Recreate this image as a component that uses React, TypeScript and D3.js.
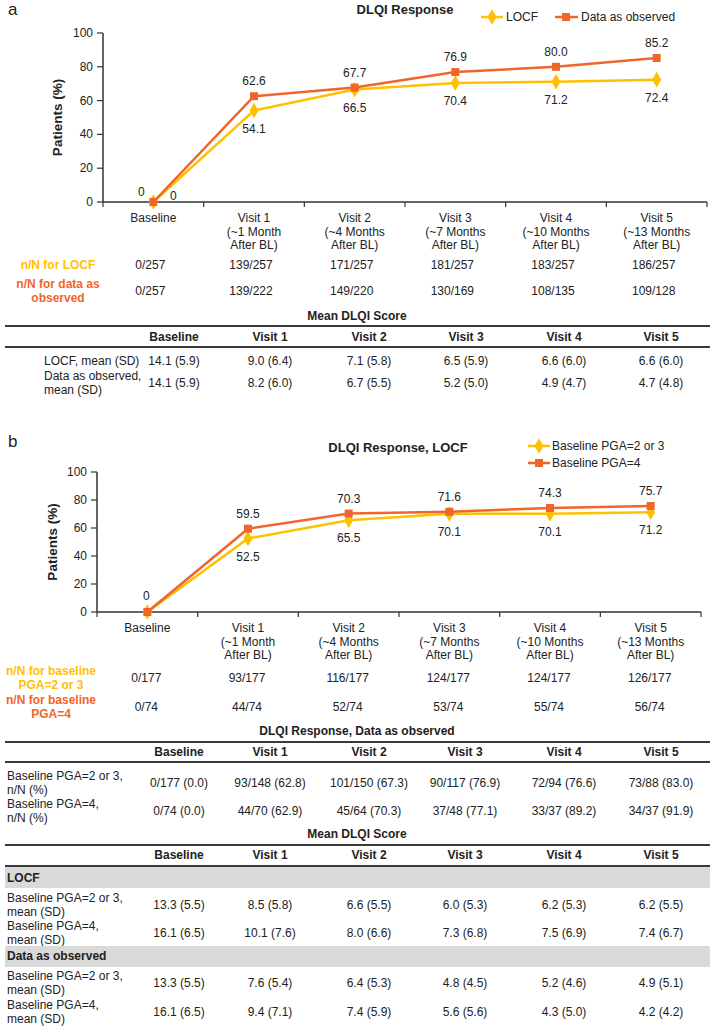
import React from "react";
import * as d3 from "d3";

const W = 710;
const H = 1028;
const FONT = "'Liberation Sans', Arial, Helvetica, sans-serif";
const ORANGE = "#F0652A";
const YELLOW = "#FFC000";
const LINE_DARK = "#3a3a3a";

// ---------- data ----------
const categories = ["Baseline", "Visit 1", "Visit 2", "Visit 3", "Visit 4", "Visit 5"];
const categoryLines = [
  ["Baseline"],
  ["Visit 1", "(~1 Month", "After BL)"],
  ["Visit 2", "(~4 Months", "After BL)"],
  ["Visit 3", "(~7 Months", "After BL)"],
  ["Visit 4", "(~10 Months", "After BL)"],
  ["Visit 5", "(~13 Months", "After BL)"],
];
const yTicks = [0, 20, 40, 60, 80, 100];

const locfA = [0, 54.1, 66.5, 70.4, 71.2, 72.4];
const observedA = [0, 62.6, 67.7, 76.9, 80.0, 85.2];
const pga23B = [0, 52.5, 65.5, 70.1, 70.1, 71.2];
const pga4B = [0, 59.5, 70.3, 71.6, 74.3, 75.7];

const nnLocfA = ["0/257", "139/257", "171/257", "181/257", "183/257", "186/257"];
const nnObsA = ["0/257", "139/222", "149/220", "130/169", "108/135", "109/128"];
const meanLocfA = ["14.1 (5.9)", "9.0 (6.4)", "7.1 (5.8)", "6.5 (5.9)", "6.6 (6.0)", "6.6 (6.0)"];
const meanObsA = ["14.1 (5.9)", "8.2 (6.0)", "6.7 (5.5)", "5.2 (5.0)", "4.9 (4.7)", "4.7 (4.8)"];

const nnPga23 = ["0/177", "93/177", "116/177", "124/177", "124/177", "126/177"];
const nnPga4 = ["0/74", "44/74", "52/74", "53/74", "55/74", "56/74"];
const obsPga23 = ["0/177 (0.0)", "93/148 (62.8)", "101/150 (67.3)", "90/117 (76.9)", "72/94 (76.6)", "73/88 (83.0)"];
const obsPga4 = ["0/74 (0.0)", "44/70 (62.9)", "45/64 (70.3)", "37/48 (77.1)", "33/37 (89.2)", "34/37 (91.9)"];
const meanLocfPga23 = ["13.3 (5.5)", "8.5 (5.8)", "6.6 (5.5)", "6.0 (5.3)", "6.2 (5.3)", "6.2 (5.5)"];
const meanLocfPga4 = ["16.1 (6.5)", "10.1 (7.6)", "8.0 (6.6)", "7.3 (6.8)", "7.5 (6.9)", "7.4 (6.7)"];
const meanObsPga23 = ["13.3 (5.5)", "7.6 (5.4)", "6.4 (5.3)", "4.8 (4.5)", "5.2 (4.6)", "4.9 (5.1)"];
const meanObsPga4 = ["16.1 (6.5)", "9.4 (7.1)", "7.4 (5.9)", "5.6 (5.6)", "4.3 (5.0)", "4.2 (4.2)"];

const fmt = (v: number) => (v === 0 ? "0" : v.toFixed(1));

const diamond = d3.symbol().type(d3.symbolDiamond).size(70)() as string;
const square = d3.symbol().type(d3.symbolSquare).size(64)() as string;

type ChartProps = {
  left: number;
  right: number;
  yTop: number;
  yBottom: number;
  yellow: number[];
  orange: number[];
  titleX: number;
  zeroBoth: boolean;
  yTitleX: number;
};

function LineChart(p: ChartProps) {
  const x = d3.scaleBand<string>().domain(categories).range([p.left, p.right]).padding(0);
  const y = d3.scaleLinear().domain([0, 100]).range([p.yBottom, p.yTop]);
  const cx = (c: string) => (x(c) as number) + x.bandwidth() / 2;
  const line = d3
    .line<number>()
    .x((_, i) => cx(categories[i]))
    .y((d) => y(d));
  const bounds = categories.map((c) => x(c) as number).concat([p.right]);
  return (
    <g fontFamily={FONT}>
      {/* y axis */}
      <line x1={p.left} x2={p.left} y1={p.yTop} y2={p.yBottom} stroke="#333" strokeWidth={1.5} />
      {yTicks.map((t) => (
        <g key={t}>
          <line x1={p.left - 6} x2={p.left} y1={y(t)} y2={y(t)} stroke="#333" strokeWidth={1.2} />
          <text x={p.left - 10} y={y(t)} textAnchor="end" dominantBaseline="central" fontSize={12} fill="#222">
            {t}
          </text>
        </g>
      ))}
      <text
        transform={`translate(${p.yTitleX},${(p.yTop + p.yBottom) / 2}) rotate(-90)`}
        textAnchor="middle"
        dominantBaseline="central"
        fontSize={13.5}
        fontWeight="bold"
        fill="#222"
      >
        Patients (%)
      </text>
      {/* x axis */}
      <line x1={p.left} x2={p.right} y1={p.yBottom} y2={p.yBottom} stroke="#333" strokeWidth={1.5} />
      {bounds.map((b, i) => (
        <line key={i} x1={b} x2={b} y1={p.yBottom} y2={p.yBottom + 5} stroke="#333" strokeWidth={1.2} />
      ))}
      {categories.map((c, i) => (
        <text key={c} textAnchor="middle" fontSize={12} fill="#222">
          {categoryLines[i].map((l, j) => (
            <tspan key={j} x={cx(c)} y={p.yBottom + 16 + j * 13.5} dominantBaseline="central">
              {l}
            </tspan>
          ))}
        </text>
      ))}
      {/* lines */}
      <path d={line(p.yellow) as string} fill="none" stroke={YELLOW} strokeWidth={2.5} />
      <path d={line(p.orange) as string} fill="none" stroke={ORANGE} strokeWidth={2.5} />
      {p.yellow.map((v, i) => (
        <path key={"y" + i} d={diamond} transform={`translate(${cx(categories[i])},${y(v)})`} fill={YELLOW} />
      ))}
      {p.orange.map((v, i) => (
        <path key={"o" + i} d={square} transform={`translate(${cx(categories[i])},${y(v)})`} fill={ORANGE} />
      ))}
      {/* data labels */}
      {p.orange.map((v, i) => {
        let dx = 0;
        let dy = -15;
        if (i === 0 && p.zeroBoth) {
          dx = -12;
          dy = -10;
        } else if (i === 0) {
          dx = -1;
          dy = -16;
        }
        return (
          <text
            key={"lo" + i}
            x={cx(categories[i]) + dx}
            y={y(v) + dy}
            textAnchor="middle"
            dominantBaseline="central"
            fontSize={12}
            fill="#222"
          >
            {fmt(v)}
          </text>
        );
      })}
      {p.yellow.map((v, i) => {
        if (i === 0 && !p.zeroBoth) return null;
        let dx = 0;
        let dy = 18;
        if (i === 0) {
          dx = 20;
          dy = -6;
        }
        return (
          <text
            key={"ly" + i}
            x={cx(categories[i]) + dx}
            y={y(v) + dy}
            textAnchor="middle"
            dominantBaseline="central"
            fontSize={12}
            fill="#222"
          >
            {fmt(v)}
          </text>
        );
      })}
    </g>
  );
}

function HLine({ y }: { y: number }) {
  return <line x1={5} x2={710} y1={y} y2={y} stroke={LINE_DARK} strokeWidth={2} />;
}

function Row({ y, cols, values, bold }: { y: number; cols: number[]; values: string[]; bold?: boolean }) {
  return (
    <g>
      {values.map((v, i) => (
        <text
          key={i}
          x={cols[i]}
          y={y}
          textAnchor="middle"
          dominantBaseline="central"
          fontSize={12}
          fontWeight={bold ? "bold" : "normal"}
          fill="#222"
        >
          {v}
        </text>
      ))}
    </g>
  );
}

function Label({ x, y, lines, color, bold, anchor }: { x: number; y: number; lines: string[]; color?: string; bold?: boolean; anchor?: string }) {
  return (
    <text textAnchor={anchor || "start"} fontSize={12} fontWeight={bold ? "bold" : "normal"} fill={color || "#222"}>
      {lines.map((l, j) => (
        <tspan key={j} x={x} y={y + j * 14} dominantBaseline="central">
          {l}
        </tspan>
      ))}
    </text>
  );
}

export default function App() {
  const colsA = [174, 270, 369, 466, 564, 661];
  const colsB = [179, 270, 369, 465, 564, 661];
  const xa = d3.scaleBand<string>().domain(categories).range([103, 707]);
  const xb = d3.scaleBand<string>().domain(categories).range([97, 701]);
  const nnColsA = categories.map((c) => (xa(c) as number) + xa.bandwidth() / 2 - 3);
  const nnColsB = categories.map((c) => (xb(c) as number) + xb.bandwidth() / 2 - 1);

  return (
    <svg
      width={W}
      height={H}
      viewBox={`0 0 ${W} ${H}`}
      style={{ position: "absolute", left: 0, top: 0, background: "#fff" }}
      fontFamily={FONT}
    >
      <rect x={0} y={0} width={W} height={H} fill="#fff" />
      {/* ----- Panel a ----- */}
      <text x={8} y={9} fontSize={17} dominantBaseline="central" fill="#222">a</text>
      <text x={405} y={9} textAnchor="middle" dominantBaseline="central" fontSize={13} fontWeight="bold" fill="#222">
        DLQI Response
      </text>
      <g>
        <line x1={481} x2={503} y1={17} y2={17} stroke={YELLOW} strokeWidth={2.5} />
        <path d={diamond} transform="translate(492,17)" fill={YELLOW} />
        <text x={506} y={17} dominantBaseline="central" fontSize={12} fill="#222">LOCF</text>
        <line x1={555} x2={578} y1={17} y2={17} stroke={ORANGE} strokeWidth={2.5} />
        <path d={square} transform="translate(566,17)" fill={ORANGE} />
        <text x={581} y={17} dominantBaseline="central" fontSize={12} fill="#222">Data as observed</text>
      </g>
      <LineChart left={103} right={707} yTop={33} yBottom={202} yellow={locfA} orange={observedA} titleX={405} zeroBoth={true} yTitleX={57} />

      <Label x={58} y={265} lines={["n/N for LOCF"]} color={YELLOW} bold anchor="middle" />
      <Label x={58} y={284} lines={["n/N for data as", "observed"]} color={ORANGE} bold anchor="middle" />
      <Row y={265} cols={nnColsA} values={nnLocfA} />
      <Row y={291} cols={nnColsA} values={nnObsA} />

      <text x={357} y={316} textAnchor="middle" dominantBaseline="central" fontSize={12} fontWeight="bold" fill="#222">
        Mean DLQI Score
      </text>
      <HLine y={326} />
      <Row y={337} cols={colsA} values={categories} bold />
      <HLine y={347} />
      <Label x={44} y={361} lines={["LOCF, mean (SD)"]} />
      <Row y={361} cols={colsA} values={meanLocfA} />
      <Label x={44} y={376} lines={["Data as observed,", "mean (SD)"]} />
      <Row y={383} cols={colsA} values={meanObsA} />

      {/* ----- Panel b ----- */}
      <text x={8} y={441} fontSize={17} dominantBaseline="central" fill="#222">b</text>
      <text x={398} y={447} textAnchor="middle" dominantBaseline="central" fontSize={13} fontWeight="bold" fill="#222">
        DLQI Response, LOCF
      </text>
      <g>
        <line x1={528} x2={550} y1={446} y2={446} stroke={YELLOW} strokeWidth={2.5} />
        <path d={diamond} transform="translate(539,446)" fill={YELLOW} />
        <text x={552} y={446} dominantBaseline="central" fontSize={12} fill="#222">Baseline PGA=2 or 3</text>
        <line x1={528} x2={550} y1={463} y2={463} stroke={ORANGE} strokeWidth={2.5} />
        <path d={square} transform="translate(539,463)" fill={ORANGE} />
        <text x={552} y={463} dominantBaseline="central" fontSize={12} fill="#222">Baseline PGA=4</text>
      </g>
      <LineChart left={97} right={701} yTop={472} yBottom={612} yellow={pga23B} orange={pga4B} titleX={398} zeroBoth={false} yTitleX={52} />

      <Label x={51} y={671} lines={["n/N for baseline", "PGA=2 or 3"]} color={YELLOW} bold anchor="middle" />
      <Label x={51} y={700} lines={["n/N for baseline", "PGA=4"]} color={ORANGE} bold anchor="middle" />
      <Row y={678} cols={nnColsB} values={nnPga23} />
      <Row y={707} cols={nnColsB} values={nnPga4} />

      <text x={357} y={731} textAnchor="middle" dominantBaseline="central" fontSize={12} fontWeight="bold" fill="#222">
        DLQI Response, Data as observed
      </text>
      <HLine y={742} />
      <Row y={752} cols={colsB} values={categories} bold />
      <HLine y={762} />
      <Label x={7} y={776} lines={["Baseline PGA=2 or 3,", "n/N (%)"]} />
      <Row y={783} cols={colsB} values={obsPga23} />
      <Label x={7} y={804} lines={["Baseline PGA=4,", "n/N (%)"]} />
      <Row y={811} cols={colsB} values={obsPga4} />

      <text x={357} y={834} textAnchor="middle" dominantBaseline="central" fontSize={12} fontWeight="bold" fill="#222">
        Mean DLQI Score
      </text>
      <HLine y={845} />
      <Row y={855} cols={colsB} values={categories} bold />
      <HLine y={866} />
      <rect x={5} y={867} width={705} height={21} fill="#d9d9d9" />
      <text x={7} y={878} dominantBaseline="central" fontSize={12} fontWeight="bold" fill="#222">LOCF</text>
      <Label x={7} y={898} lines={["Baseline PGA=2 or 3,", "mean (SD)"]} />
      <Row y={905} cols={colsB} values={meanLocfPga23} />
      <Label x={7} y={926} lines={["Baseline PGA=4,", "mean (SD)"]} />
      <Row y={933} cols={colsB} values={meanLocfPga4} />
      <rect x={5} y={946} width={705} height={21} fill="#d9d9d9" />
      <text x={7} y={956} dominantBaseline="central" fontSize={12} fontWeight="bold" fill="#222">Data as observed</text>
      <Label x={7} y={976} lines={["Baseline PGA=2 or 3,", "mean (SD)"]} />
      <Row y={983} cols={colsB} values={meanObsPga23} />
      <Label x={7} y={1005} lines={["Baseline PGA=4,", "mean (SD)"]} />
      <Row y={1012} cols={colsB} values={meanObsPga4} />
    </svg>
  );
}
